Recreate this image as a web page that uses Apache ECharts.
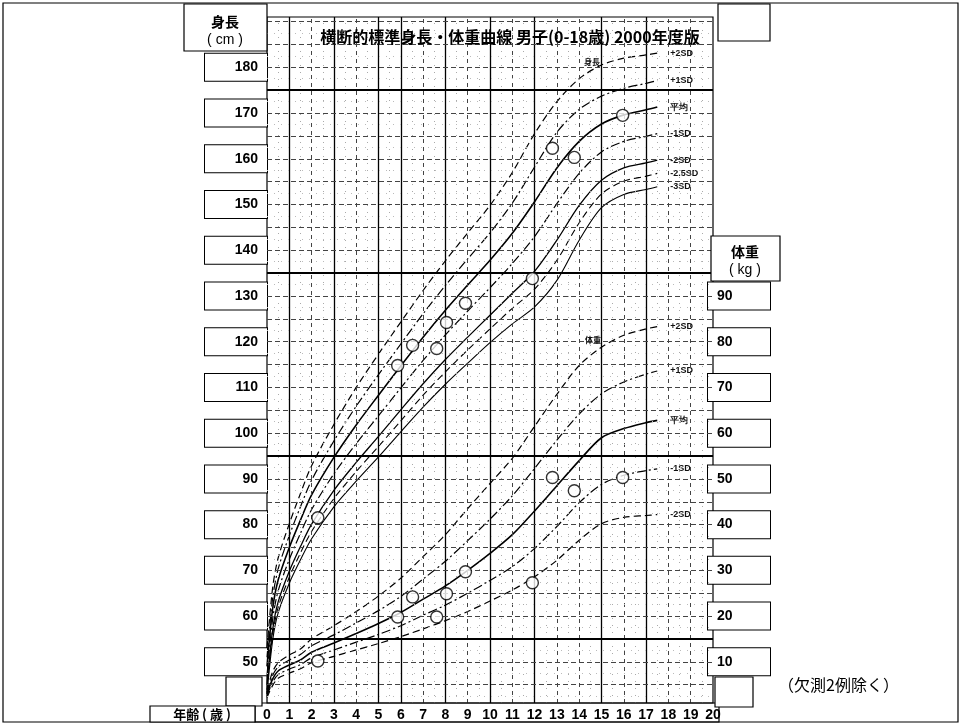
<!DOCTYPE html>
<html>
<head>
<meta charset="utf-8">
<script src="https://cdn.jsdelivr.net/npm/echarts@6/dist/echarts.min.js"></script>
<style>
html, body { margin: 0; padding: 0; background: #fff; }
#c { width: 962px; height: 726px; }
</style>
</head>
<body>
<div id="c"></div>
<script>
// Reference ages (years) at which the standard curves are given
const ages = [0, 0.25, 0.5, 1, 1.5, 2, 3, 4, 5, 6, 7, 8, 9, 10, 11, 12, 13, 14, 15, 16, 17, 17.5];

// Height standard curves (cm)
const heightPlus2SD  = [53.0, 66.1, 72.7, 80.2, 86.8, 92.9, 101.9, 110.0, 117.3, 124.3, 131.2, 137.7, 143.8, 149.8, 157.0, 165.5, 172.5, 177.5, 180.5, 182.0, 182.7, 183.1];
const heightPlus1SD  = [51.0, 63.8, 70.3, 77.6, 83.9, 89.7, 98.3, 105.9, 112.8, 119.5, 126.1, 132.3, 138.1, 143.8, 150.3, 158.2, 165.8, 170.8, 173.7, 175.4, 176.5, 177.1];
const heightMean     = [49.0, 61.5, 67.9, 75.0, 81.0, 86.5, 94.7, 101.8, 108.3, 114.7, 121.0, 126.9, 132.4, 137.8, 143.7, 150.6, 158.0, 163.8, 167.6, 169.6, 170.7, 171.3];
const heightMinus1SD = [47.0, 59.2, 65.5, 72.4, 78.1, 83.3, 91.1, 97.7, 103.8, 109.9, 115.9, 121.5, 126.7, 131.8, 137.1, 143.0, 150.2, 156.8, 161.5, 163.8, 164.9, 165.5];
const heightMinus2SD = [45.0, 56.9, 63.1, 69.8, 75.2, 80.1, 87.5, 93.6, 99.3, 105.1, 110.8, 116.1, 121.0, 125.8, 130.6, 135.4, 142.2, 149.8, 155.3, 158.0, 159.1, 159.7];
const heightMinus25SD = [44.0, 55.8, 61.9, 68.5, 73.8, 78.5, 85.7, 91.6, 97.1, 102.7, 108.3, 113.4, 118.2, 122.8, 127.3, 131.5, 137.8, 146.0, 152.3, 155.1, 156.2, 156.8];
const heightMinus3SD = [43.0, 54.6, 60.7, 67.2, 72.3, 76.9, 83.9, 89.5, 94.8, 100.3, 105.7, 110.7, 115.3, 119.8, 123.9, 127.6, 133.4, 142.2, 149.3, 152.2, 153.3, 153.9];

// Weight standard curves (kg)
const weightPlus2SD  = [3.8, 7.8, 9.8, 11.5, 12.8, 15.0, 17.9, 21.0, 24.4, 28.3, 33.0, 37.8, 43.5, 49.0, 54.5, 61.5, 68.5, 74.8, 78.8, 81.4, 82.8, 83.3];
const weightPlus1SD  = [3.4, 7.0, 8.9, 10.4, 11.6, 13.5, 15.9, 18.5, 21.2, 24.3, 28.1, 32.0, 36.5, 41.2, 46.3, 52.3, 58.5, 64.2, 68.6, 71.2, 72.9, 73.6];
const weightMean     = [3.0, 6.2, 8.0, 9.3, 10.4, 12.1, 14.1, 16.2, 18.4, 20.8, 23.7, 26.6, 30.0, 33.7, 37.8, 43.0, 48.5, 54.0, 59.0, 61.0, 62.3, 62.8];
const weightMinus1SD = [2.6, 5.5, 7.2, 8.4, 9.4, 10.9, 12.6, 14.3, 16.0, 17.9, 20.2, 22.4, 25.0, 27.8, 30.8, 34.8, 39.6, 44.8, 48.8, 50.8, 51.8, 52.2];
const weightMinus2SD = [2.2, 4.8, 6.4, 7.5, 8.5, 9.8, 11.2, 12.6, 14.0, 15.5, 17.2, 19.0, 21.0, 23.3, 25.7, 28.6, 32.2, 36.6, 40.2, 41.6, 42.0, 42.2];

// Measured cases
const caseAges    = [2.28, 5.86, 6.53, 7.61, 8.05, 8.90, 11.90, 12.80, 13.78, 15.95];
const caseHeights = [81.5, 114.8, 119.2, 118.5, 124.2, 128.4, 133.8, 162.3, 160.3, 169.5];
const caseWeights = [10.2, 19.8, 24.2, 19.8, 24.9, 29.7, 27.3, 50.3, 47.4, 50.3];

// Axis tick labels
const heightTicks = [50, 60, 70, 80, 90, 100, 110, 120, 130, 140, 150, 160, 170, 180];
const weightTicks = [10, 20, 30, 40, 50, 60, 70, 80, 90];

const TITLE = '横断的標準身長・体重曲線 男子(0-18歳) 2000年度版';
const NUM_FONT = '"Liberation Sans", Arial, sans-serif';
const JP_FONT = '"Noto Sans CJK JP", "Noto Sans", sans-serif';

const pair = (xs, ys) => xs.map((x, i) => [x, ys[i]]);

function curve(name, values, yAxisIndex, dash, width) {
  return {
    type: 'line',
    name: name,
    yAxisIndex: yAxisIndex,
    data: pair(ages, values),
    smooth: 0.3,
    symbol: 'none',
    silent: true,
    z: 4,
    lineStyle: { color: '#000', width: width, type: dash },
    endLabel: {
      show: true,
      formatter: name,
      distance: 13,
      fontSize: 9,
      fontWeight: 'bold',
      fontFamily: NUM_FONT,
      color: '#111'
    }
  };
}

// Grid lines of the chart paper
const solidYears = [1, 3, 5, 6, 8, 10, 12, 15, 17];
const verticalLines = [];
for (let a = 0.5; a < 20; a += 0.5) {
  if (Number.isInteger(a)) {
    if (solidYears.includes(a)) {
      verticalLines.push({ xAxis: a, lineStyle: { color: '#000', width: 1.3, type: 'solid' } });
    } else {
      verticalLines.push({ xAxis: a, lineStyle: { color: '#444', width: 1, type: [4, 4] } });
    }
  } else {
    verticalLines.push({ xAxis: a, lineStyle: { color: '#aaa', width: 1, type: [1, 6] } });
  }
}
const heavyRows = [55, 95, 135, 175];
const horizontalLines = [];
for (let h = 42.5; h < 191; h += 2.5) {
  if (h % 5 === 0) {
    const heavy = heavyRows.includes(h);
    horizontalLines.push({ yAxis: h, lineStyle: { color: heavy ? '#000' : '#444', width: heavy ? 2 : 1, type: heavy ? 'solid' : [5, 3] } });
  } else {
    horizontalLines.push({ yAxis: h, lineStyle: { color: '#bbb', width: 1, type: [1, 6] } });
  }
}

function boxLabel(alignSide) {
  return {
    fontFamily: NUM_FONT,
    fontWeight: 'bold',
    fontSize: 14,
    color: '#000',
    backgroundColor: '#fff',
    borderColor: '#000',
    borderWidth: 1,
    width: 53,
    lineHeight: 16,
    align: alignSide,
    padding: alignSide === 'right' ? [6, 9, 5, 0] : [6, 0, 5, 9]
  };
}

const option = {
  animation: false,
  backgroundColor: '#fff',
  title: {
    text: TITLE,
    left: 505,
    top: 24,
    textAlign: 'center',
    textStyle: { fontFamily: JP_FONT, fontSize: 16, fontWeight: 'bold', color: '#000' }
  },
  grid: {
    left: 267, right: 249, top: 17, bottom: 23,
    show: true, borderColor: '#000', borderWidth: 1.2, backgroundColor: 'transparent'
  },
  xAxis: {
    type: 'value', min: 0, max: 20, interval: 1,
    axisLine: { show: false }, axisTick: { show: false }, splitLine: { show: false },
    axisLabel: {
      margin: 5, fontFamily: NUM_FONT, fontWeight: 'bold', fontSize: 14, color: '#000',
      showMinLabel: true, showMaxLabel: true
    }
  },
  yAxis: [
    {
      type: 'value', min: 41, max: 191, position: 'left',
      axisLine: { show: false }, axisTick: { show: false }, splitLine: { show: false },
      axisLabel: Object.assign({ customValues: heightTicks, margin: 0 }, boxLabel('right'))
    },
    {
      type: 'value', min: 1, max: 151, position: 'right',
      axisLine: { show: false }, axisTick: { show: false }, splitLine: { show: false },
      axisLabel: Object.assign({ customValues: weightTicks, margin: -5 }, boxLabel('left'))
    }
  ],
  series: [
    {
      type: 'line', name: 'paper', data: [], silent: true, z: 1,
      markLine: {
        silent: true, symbol: 'none', animation: false,
        label: { show: false },
        emphasis: { disabled: true },
        data: verticalLines.concat(horizontalLines)
      }
    },
    curve('+2SD', heightPlus2SD, 0, [7, 4], 1.2),
    curve('+1SD', heightPlus1SD, 0, [9, 3, 2, 3], 1.2),
    curve('平均', heightMean, 0, 'solid', 1.6),
    curve('-1SD', heightMinus1SD, 0, [9, 3, 2, 3], 1.2),
    curve('-2SD', heightMinus2SD, 0, 'solid', 1.3),
    curve('-2.5SD', heightMinus25SD, 0, [7, 4], 1.1),
    curve('-3SD', heightMinus3SD, 0, 'solid', 1.1),
    curve('+2SD', weightPlus2SD, 1, [7, 4], 1.2),
    curve('+1SD', weightPlus1SD, 1, [9, 3, 2, 3], 1.2),
    curve('平均', weightMean, 1, 'solid', 1.6),
    curve('-1SD', weightMinus1SD, 1, [9, 3, 2, 3], 1.2),
    curve('-2SD', weightMinus2SD, 1, [7, 4], 1.2),
    {
      type: 'scatter', name: '身長', yAxisIndex: 0, z: 6,
      data: pair(caseAges, caseHeights),
      symbol: 'circle', symbolSize: 12,
      itemStyle: { color: '#fff', borderColor: '#000', borderWidth: 1.4 }
    },
    {
      type: 'scatter', name: '体重', yAxisIndex: 1, z: 6,
      data: pair(caseAges, caseWeights),
      symbol: 'circle', symbolSize: 12,
      itemStyle: { color: '#fff', borderColor: '#000', borderWidth: 1.4 }
    }
  ],
  graphic: [
    { type: 'rect', silent: true, z: 0, shape: { x: 3, y: 3, width: 955, height: 719 }, style: { fill: 'none', stroke: '#000', lineWidth: 1.2 } },
    { type: 'rect', silent: true, z: 10, shape: { x: 184, y: 4, width: 83, height: 47 }, style: { fill: '#fff', stroke: '#000', lineWidth: 1.2 } },
    { type: 'text', silent: true, z: 11, style: { x: 225, y: 22, text: '身長', font: 'bold 14px ' + JP_FONT, fill: '#000', align: 'center', verticalAlign: 'middle' } },
    { type: 'text', silent: true, z: 11, style: { x: 225, y: 40, text: '( cm )', font: '14px ' + NUM_FONT, fill: '#000', align: 'center', verticalAlign: 'middle' } },
    { type: 'rect', silent: true, z: 10, shape: { x: 718, y: 4, width: 52, height: 37 }, style: { fill: '#fff', stroke: '#000', lineWidth: 1.2 } },
    { type: 'rect', silent: true, z: 10, shape: { x: 711, y: 236, width: 69, height: 45 }, style: { fill: '#fff', stroke: '#000', lineWidth: 1.2 } },
    { type: 'text', silent: true, z: 11, style: { x: 745, y: 252, text: '体重', font: 'bold 14px ' + JP_FONT, fill: '#000', align: 'center', verticalAlign: 'middle' } },
    { type: 'text', silent: true, z: 11, style: { x: 745, y: 270, text: '( kg )', font: '14px ' + NUM_FONT, fill: '#000', align: 'center', verticalAlign: 'middle' } },
    { type: 'rect', silent: true, z: 10, shape: { x: 226, y: 677, width: 36, height: 29 }, style: { fill: '#fff', stroke: '#000', lineWidth: 1.2 } },
    { type: 'rect', silent: true, z: 10, shape: { x: 150, y: 706, width: 105, height: 16 }, style: { fill: '#fff', stroke: '#000', lineWidth: 1.2 } },
    { type: 'text', silent: true, z: 11, style: { x: 202, y: 714, text: '年齢 ( 歳 )', font: 'bold 13px ' + JP_FONT, fill: '#000', align: 'center', verticalAlign: 'middle' } },
    { type: 'rect', silent: true, z: 9, shape: { x: 255, y: 703, width: 464, height: 19 }, style: { fill: 'none', stroke: '#000', lineWidth: 1.2 } },
    { type: 'rect', silent: true, z: 10, shape: { x: 715, y: 677, width: 38, height: 30 }, style: { fill: '#fff', stroke: '#000', lineWidth: 1.2 } },
    { type: 'text', silent: true, z: 11, style: { x: 778, y: 685, text: '（欠測2例除く）', font: '16px ' + JP_FONT, fill: '#000', align: 'left', verticalAlign: 'middle' } },
    { type: 'text', silent: true, z: 11, style: { x: 592, y: 62, text: '身長', font: 'bold 8px ' + JP_FONT, fill: '#111', align: 'center', verticalAlign: 'middle' } },
    { type: 'text', silent: true, z: 11, style: { x: 593, y: 340, text: '体重', font: 'bold 8px ' + JP_FONT, fill: '#111', align: 'center', verticalAlign: 'middle' } }
  ]
};

const chart = echarts.init(document.getElementById('c'));
chart.setOption(option);
</script>
</body>
</html>
